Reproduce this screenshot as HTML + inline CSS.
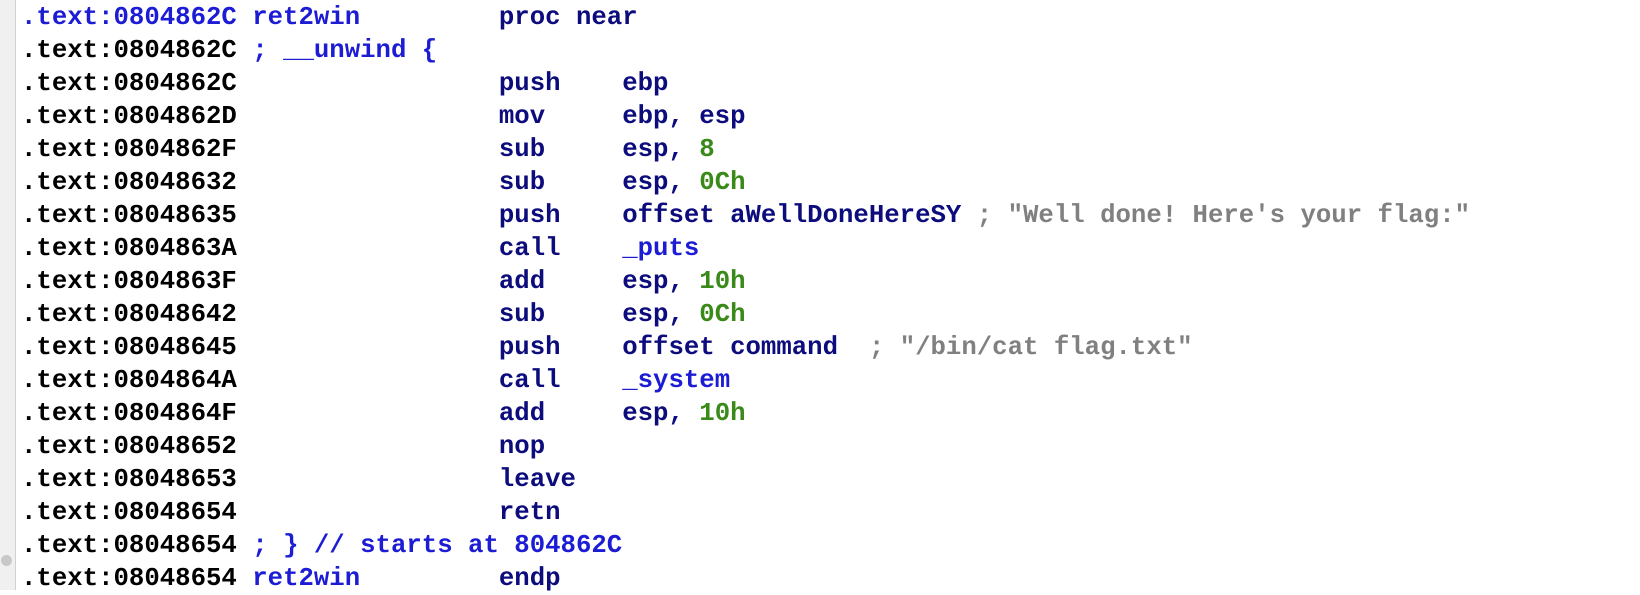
<!DOCTYPE html>
<html><head><meta charset="utf-8"><style>
html,body{margin:0;padding:0;background:#fff;width:1640px;height:590px;overflow:hidden}
.g{position:absolute;left:0;top:0;width:15px;height:590px;background:#f0f0f0;border-right:1px solid #d0d0d0}
.dot{position:absolute;left:1px;top:555px;width:11px;height:11px;border-radius:50%;background:#c8c8c8}
pre{position:absolute;left:21px;top:1px;margin:0;font-family:"Liberation Mono",monospace;font-weight:bold;font-size:25.7px;line-height:33px;color:#000}
.b{color:#1c1cd4}.n{color:#0c0c7c}.gr{color:#3a8a1a}.c{color:#808080}
</style></head><body>
<div class="g"></div><div class="dot"></div>
<pre><span class="b">.text:0804862C ret2win         </span><span class="n">proc near</span>
.text:0804862C <span class="b">; __unwind {</span>
.text:0804862C                 <span class="n">push    ebp</span>
.text:0804862D                 <span class="n">mov     ebp, esp</span>
.text:0804862F                 <span class="n">sub     esp, </span><span class="gr">8</span>
.text:08048632                 <span class="n">sub     esp, </span><span class="gr">0Ch</span>
.text:08048635                 <span class="n">push    offset aWellDoneHereSY</span> <span class="c">; "Well done! Here's your flag:"</span>
.text:0804863A                 <span class="n">call    </span><span class="b">_puts</span>
.text:0804863F                 <span class="n">add     esp, </span><span class="gr">10h</span>
.text:08048642                 <span class="n">sub     esp, </span><span class="gr">0Ch</span>
.text:08048645                 <span class="n">push    offset command</span>  <span class="c">; "/bin/cat flag.txt"</span>
.text:0804864A                 <span class="n">call    </span><span class="b">_system</span>
.text:0804864F                 <span class="n">add     esp, </span><span class="gr">10h</span>
.text:08048652                 <span class="n">nop</span>
.text:08048653                 <span class="n">leave</span>
.text:08048654                 <span class="n">retn</span>
.text:08048654 <span class="b">; } // starts at 804862C</span>
.text:08048654 <span class="b">ret2win</span>         <span class="n">endp</span></pre>
</body></html>
